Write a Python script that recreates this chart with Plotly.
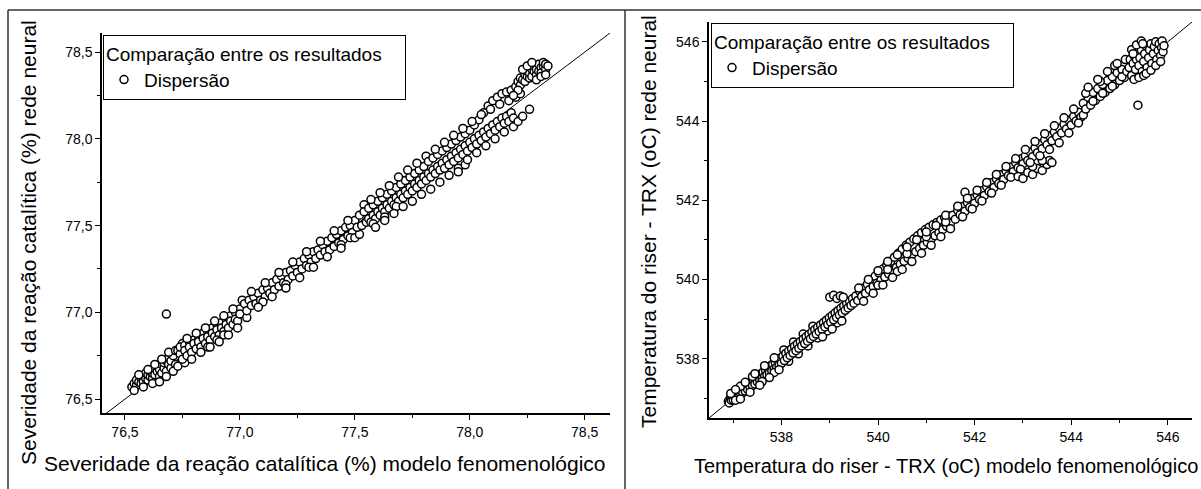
import plotly.graph_objects as go

# Severidade da reação catalítica (%): (modelo fenomenológico, rede neural)
sev_pontos = [
    (76.53, 76.57), (76.54, 76.59), (76.55, 76.58), (76.55, 76.61), (76.56, 76.60),
    (76.57, 76.62), (76.57, 76.59), (76.58, 76.63), (76.58, 76.60), (76.59, 76.62),
    (76.59, 76.65), (76.60, 76.61), (76.60, 76.64), (76.61, 76.63), (76.61, 76.66),
    (76.62, 76.62), (76.62, 76.65), (76.63, 76.67), (76.63, 76.64), (76.64, 76.66),
    (76.64, 76.69), (76.65, 76.63), (76.65, 76.67), (76.66, 76.70), (76.66, 76.65),
    (76.67, 76.68), (76.67, 76.71), (76.68, 76.66), (76.68, 76.72), (76.69, 76.70),
    (76.69, 76.74), (76.70, 76.68), (76.70, 76.72), (76.71, 76.75), (76.72, 76.70),
    (76.68, 76.99),
    (76.54, 76.55), (76.56, 76.64), (76.58, 76.57), (76.60, 76.67), (76.62, 76.59),
    (76.63, 76.70), (76.65, 76.60), (76.66, 76.73), (76.68, 76.63), (76.69, 76.77),
    (76.71, 76.66), (76.72, 76.78), (76.73, 76.69), (76.75, 76.82), (76.76, 76.71),
    (76.73, 76.78), (76.74, 76.76), (76.74, 76.80), (76.75, 76.73), (76.76, 76.81),
    (76.76, 76.78), (76.77, 76.75), (76.78, 76.83), (76.78, 76.80), (76.79, 76.77),
    (76.80, 76.84), (76.80, 76.82), (76.81, 76.79), (76.82, 76.86), (76.82, 76.83),
    (76.83, 76.80), (76.84, 76.88), (76.84, 76.85), (76.85, 76.82), (76.86, 76.89),
    (76.86, 76.86), (76.87, 76.84), (76.88, 76.91), (76.88, 76.88), (76.89, 76.86),
    (76.90, 76.93), (76.90, 76.90), (76.91, 76.87), (76.92, 76.94), (76.92, 76.91),
    (76.93, 76.89), (76.94, 76.96), (76.94, 76.93), (76.95, 76.91), (76.96, 76.98),
    (76.96, 76.95), (76.97, 76.93), (76.98, 77.00), (76.98, 76.96), (76.99, 76.95),
    (77.00, 77.02), (77.00, 76.99), (76.86, 76.80), (76.90, 76.84), (76.93, 76.87),
    (76.77, 76.85), (76.79, 76.73), (76.81, 76.88), (76.83, 76.77), (76.85, 76.91),
    (76.87, 76.80), (76.89, 76.95), (76.91, 76.83), (76.93, 76.98), (76.95, 76.87),
    (76.97, 77.02), (76.99, 76.91), (77.01, 77.07), (77.03, 76.97),
    (77.02, 77.05), (77.03, 77.01), (77.04, 77.07), (77.05, 77.04), (77.06, 77.09),
    (77.07, 77.05), (77.08, 77.11), (77.09, 77.07), (77.10, 77.13), (77.11, 77.09),
    (77.12, 77.14), (77.13, 77.11), (77.14, 77.17), (77.15, 77.13), (77.16, 77.19),
    (77.17, 77.15), (77.18, 77.21), (77.19, 77.17), (77.20, 77.23), (77.21, 77.19),
    (77.22, 77.24), (77.23, 77.21), (77.24, 77.27), (77.25, 77.23), (77.26, 77.29),
    (77.27, 77.25), (77.28, 77.31), (77.29, 77.27), (77.30, 77.33), (77.31, 77.29),
    (77.32, 77.35), (77.33, 77.31), (77.34, 77.36), (77.35, 77.33), (77.36, 77.39),
    (77.37, 77.35), (77.38, 77.41), (77.39, 77.36), (77.40, 77.43), (77.41, 77.38),
    (77.42, 77.45), (77.43, 77.40), (77.44, 77.47), (77.45, 77.42), (77.46, 77.49),
    (77.47, 77.44), (77.48, 77.50), (77.49, 77.46), (77.50, 77.53), (77.10, 77.06),
    (77.20, 77.16), (77.30, 77.26), (77.44, 77.39), (77.48, 77.43),
    (77.05, 77.12), (77.08, 77.03), (77.11, 77.17), (77.14, 77.09), (77.17, 77.23),
    (77.20, 77.14), (77.23, 77.29), (77.26, 77.20), (77.29, 77.35), (77.32, 77.26),
    (77.35, 77.41), (77.38, 77.32), (77.41, 77.47), (77.44, 77.37), (77.47, 77.53),
    (77.50, 77.43), (77.52, 77.45), (77.54, 77.62),
    (77.51, 77.49), (77.52, 77.56), (77.53, 77.50), (77.54, 77.58), (77.55, 77.52),
    (77.56, 77.60), (77.56, 77.54), (77.57, 77.52), (77.58, 77.62), (77.58, 77.56),
    (77.59, 77.54), (77.60, 77.64), (77.60, 77.58), (77.61, 77.56), (77.62, 77.66),
    (77.62, 77.60), (77.63, 77.58), (77.64, 77.68), (77.64, 77.62), (77.65, 77.60),
    (77.66, 77.70), (77.66, 77.64), (77.67, 77.62), (77.68, 77.72), (77.68, 77.66),
    (77.69, 77.64), (77.70, 77.74), (77.70, 77.68), (77.71, 77.66), (77.72, 77.76),
    (77.72, 77.70), (77.73, 77.68), (77.74, 77.78), (77.74, 77.72), (77.75, 77.70),
    (77.76, 77.80), (77.76, 77.74), (77.77, 77.72), (77.78, 77.82), (77.78, 77.76),
    (77.79, 77.74), (77.80, 77.84), (77.80, 77.78), (77.58, 77.51), (77.63, 77.55),
    (77.68, 77.61),
    (77.57, 77.65), (77.59, 77.49), (77.61, 77.69), (77.63, 77.53), (77.65, 77.73),
    (77.67, 77.57), (77.69, 77.78), (77.71, 77.61), (77.73, 77.82), (77.75, 77.64),
    (77.77, 77.86), (77.79, 77.68), (77.81, 77.90), (77.83, 77.71),
    (77.81, 77.76), (77.82, 77.87), (77.82, 77.80), (77.83, 77.78), (77.84, 77.89),
    (77.84, 77.82), (77.85, 77.80), (77.86, 77.91), (77.86, 77.84), (77.87, 77.82),
    (77.88, 77.93), (77.88, 77.86), (77.89, 77.83), (77.90, 77.95), (77.90, 77.88),
    (77.91, 77.85), (77.92, 77.97), (77.92, 77.90), (77.93, 77.87), (77.94, 77.99),
    (77.94, 77.92), (77.95, 77.89), (77.95, 77.83), (77.96, 78.01), (77.96, 77.94),
    (77.97, 77.91), (77.98, 77.85), (77.98, 78.03), (77.98, 77.96), (77.99, 77.93),
    (78.00, 78.05), (78.00, 77.98), (78.01, 77.95), (78.02, 78.08), (78.02, 78.00),
    (78.03, 77.97), (78.04, 78.11), (78.04, 78.02), (78.05, 77.99), (78.06, 78.15),
    (78.06, 78.04), (78.07, 78.01), (78.08, 78.19), (78.08, 78.06), (78.09, 78.03),
    (78.10, 78.22), (78.10, 78.08), (78.11, 78.05), (78.12, 78.24), (78.12, 78.10),
    (78.13, 78.07), (78.14, 78.26), (78.14, 78.12), (78.15, 78.09), (78.16, 78.27),
    (78.16, 78.13), (78.17, 78.10), (78.18, 78.28), (78.18, 78.15), (78.19, 78.12),
    (77.85, 77.94), (77.87, 77.75), (77.89, 77.98), (77.91, 77.79), (77.93, 78.02),
    (77.95, 77.81), (77.97, 78.06), (77.99, 77.88), (78.01, 78.10), (78.03, 77.92),
    (78.05, 78.14), (78.07, 77.96), (78.09, 78.17), (78.11, 78.00), (78.13, 78.20),
    (78.15, 78.04), (78.17, 78.22), (78.19, 78.07), (78.21, 78.10), (78.23, 78.13),
    (78.20, 78.30), (78.21, 78.33), (78.22, 78.31), (78.22, 78.35), (78.23, 78.34),
    (78.24, 78.37), (78.24, 78.33), (78.25, 78.36), (78.25, 78.39), (78.26, 78.35),
    (78.26, 78.38), (78.27, 78.40), (78.27, 78.36), (78.28, 78.39), (78.28, 78.42),
    (78.29, 78.37), (78.29, 78.40), (78.30, 78.43), (78.30, 78.39), (78.31, 78.41),
    (78.31, 78.38), (78.32, 78.42), (78.32, 78.44), (78.33, 78.40), (78.33, 78.43),
    (78.34, 78.42), (78.20, 78.24), (78.22, 78.26), (78.26, 78.17),
    (78.23, 78.40), (78.25, 78.42), (78.27, 78.44), (78.29, 78.34), (78.31, 78.36),
    (78.33, 78.37), (78.21, 78.28), (78.19, 78.25),
]

# Temperatura do riser - TRX (oC): (modelo fenomenológico, rede neural)
trx_pontos = [
    (536.90, 536.92), (536.92, 536.88), (536.94, 537.00), (536.96, 536.95), (536.98, 537.05),
    (537.00, 536.96), (537.02, 537.08), (537.04, 537.01), (537.06, 537.12), (537.08, 537.03),
    (537.10, 537.16), (537.12, 537.07), (537.14, 537.20), (537.16, 537.10), (537.18, 537.24),
    (537.20, 537.14), (537.22, 537.27), (537.25, 537.18), (537.27, 537.31), (537.30, 537.22),
    (537.32, 537.36), (537.35, 537.27), (537.37, 537.41), (537.40, 537.32), (537.42, 537.46),
    (537.45, 537.36), (537.47, 537.51), (537.50, 537.41), (537.52, 537.56), (537.55, 537.45),
    (537.57, 537.61), (537.60, 537.50), (537.62, 537.66), (537.65, 537.55), (537.67, 537.71),
    (537.70, 537.59), (537.72, 537.76), (537.75, 537.64), (537.77, 537.81), (537.80, 537.69),
    (537.82, 537.86), (537.85, 537.74), (537.87, 537.91), (537.90, 537.78), (537.92, 537.96),
    (537.95, 537.83), (537.97, 538.01), (538.00, 537.88), (537.05, 536.95), (537.15, 537.30),
    (537.40, 537.55), (537.60, 537.42), (537.85, 537.65),
    (536.95, 537.12), (537.05, 537.22), (537.15, 536.98), (537.25, 537.40), (537.35, 537.15),
    (537.45, 537.62), (537.55, 537.33), (537.65, 537.82), (537.75, 537.52), (537.85, 538.02),
    (537.95, 537.72), (538.05, 538.22), (538.15, 537.93), (538.25, 538.42), (538.35, 538.12),
    (538.45, 538.62), (538.55, 538.32), (538.65, 538.82), (538.75, 538.52), (538.95, 538.70),
    (539.15, 538.90),
    (538.03, 538.06), (538.06, 537.95), (538.09, 538.13), (538.12, 538.02), (538.15, 538.19),
    (538.18, 538.08), (538.21, 538.25), (538.24, 538.14), (538.27, 538.31), (538.30, 538.20),
    (538.33, 538.37), (538.36, 538.26), (538.39, 538.43), (538.42, 538.32), (538.45, 538.49),
    (538.48, 538.38), (538.51, 538.55), (538.54, 538.44), (538.57, 538.61), (538.60, 538.50),
    (538.63, 538.67), (538.66, 538.56), (538.69, 538.73), (538.72, 538.62), (538.75, 538.79),
    (538.78, 538.68), (538.81, 538.85), (538.84, 538.74), (538.87, 538.91), (538.90, 538.80),
    (538.93, 538.97), (538.96, 538.86), (538.99, 539.03), (539.02, 538.92), (539.05, 539.09),
    (539.08, 538.98), (539.11, 539.15), (539.14, 539.04), (539.17, 539.21), (539.20, 539.10),
    (539.23, 539.27), (539.26, 539.16), (539.29, 539.33), (539.32, 539.22), (539.35, 539.39),
    (539.38, 539.28), (539.41, 539.45), (539.44, 539.34), (539.47, 539.51), (539.50, 539.40),
    (539.00, 539.55), (539.08, 539.60), (539.15, 539.52), (539.22, 539.58), (539.28, 539.55),
    (538.85, 538.55), (539.05, 538.75), (539.25, 538.95),
    (539.54, 539.58), (539.58, 539.47), (539.62, 539.70), (539.66, 539.57), (539.70, 539.78),
    (539.74, 539.65), (539.78, 539.88), (539.82, 539.74), (539.86, 539.98), (539.90, 539.82),
    (539.94, 540.08), (539.98, 539.90), (540.02, 540.16), (540.06, 539.98), (540.10, 540.26),
    (540.14, 540.06), (540.18, 540.36), (540.22, 540.14), (540.26, 540.46), (540.30, 540.22),
    (540.34, 540.56), (540.38, 540.30), (540.42, 540.66), (540.46, 540.38), (540.50, 540.76),
    (540.54, 540.46), (540.58, 540.86), (540.62, 540.54), (540.66, 540.94), (540.70, 540.62),
    (540.74, 541.02), (540.78, 540.70), (540.82, 541.10), (540.86, 540.78), (540.90, 541.18),
    (540.94, 540.86), (540.98, 541.26), (541.02, 540.94), (541.06, 541.32), (541.10, 541.02),
    (541.14, 541.38), (541.18, 541.10), (541.22, 541.44), (541.26, 541.18), (541.30, 541.50),
    (541.34, 541.26), (541.38, 541.56), (541.42, 541.34), (541.46, 541.60), (541.50, 541.42),
    (540.20, 540.25), (540.60, 540.65), (541.00, 541.08), (541.40, 541.45), (540.00, 539.85),
    (540.40, 540.20),
    (539.60, 539.78), (539.70, 539.45), (539.80, 540.00), (539.90, 539.65), (540.00, 540.22),
    (540.10, 539.86), (540.20, 540.45), (540.30, 540.05), (540.40, 540.62), (540.50, 540.25),
    (540.60, 540.82), (540.70, 540.45), (540.80, 541.00), (540.90, 540.66), (541.00, 541.20),
    (541.10, 540.86), (541.20, 541.36), (541.30, 541.08), (541.40, 541.62), (541.50, 541.28),
    (541.55, 541.62), (541.60, 541.52), (541.65, 541.74), (541.70, 541.63), (541.75, 541.84),
    (541.80, 541.72), (541.85, 541.94), (541.90, 541.82), (541.95, 542.04), (542.00, 541.92),
    (542.05, 542.14), (542.10, 542.02), (542.15, 542.24), (542.20, 542.12), (542.25, 542.34),
    (542.30, 542.22), (542.35, 542.44), (542.40, 542.32), (542.45, 542.54), (542.50, 542.42),
    (542.55, 542.64), (542.60, 542.52), (542.65, 542.74), (542.70, 542.62), (542.75, 542.84),
    (542.80, 542.72), (542.85, 542.94), (542.90, 542.82), (542.95, 543.04), (543.00, 542.92),
    (541.80, 542.20),
    (541.65, 541.85), (541.75, 541.58), (541.85, 542.05), (541.95, 541.78), (542.05, 542.25),
    (542.15, 541.98), (542.25, 542.45), (542.35, 542.18), (542.45, 542.65), (542.55, 542.38),
    (542.65, 542.85), (542.75, 542.58), (542.85, 543.05), (542.95, 542.78),
    (543.05, 543.12), (543.10, 543.00), (543.15, 543.22), (543.20, 543.10), (543.25, 543.32),
    (543.30, 543.20), (543.35, 543.42), (543.40, 543.30), (543.45, 543.52), (543.50, 543.40),
    (543.55, 543.62), (543.60, 543.50), (543.65, 543.72), (543.70, 543.60), (543.75, 543.82),
    (543.80, 543.70), (543.85, 543.92), (543.90, 543.80), (543.95, 544.02), (544.00, 543.90),
    (544.05, 544.12), (544.10, 544.00), (544.15, 544.22), (544.20, 544.10),
    (542.90, 542.60), (543.00, 542.55), (543.10, 542.70), (543.20, 542.65), (543.30, 542.80),
    (543.40, 542.75), (543.50, 542.90), (543.55, 543.00), (543.60, 542.95), (543.20, 542.85),
    (543.40, 543.00),
    (543.05, 543.28), (543.15, 542.95), (543.25, 543.48), (543.35, 543.12), (543.45, 543.68),
    (543.55, 543.28), (543.65, 543.88), (543.75, 543.45), (543.85, 544.08), (543.95, 543.70),
    (544.05, 544.30), (544.15, 543.95), (544.25, 544.15),
    (544.25, 544.45), (544.30, 544.30), (544.35, 544.60), (544.40, 544.40), (544.45, 544.72),
    (544.50, 544.52), (544.55, 544.82), (544.60, 544.62), (544.65, 544.92), (544.70, 544.72),
    (544.75, 545.02), (544.80, 544.82), (544.85, 545.12), (544.90, 544.92), (544.95, 545.22),
    (545.00, 545.02), (545.05, 545.30), (545.10, 545.10), (544.30, 544.70), (544.60, 545.00),
    (544.90, 545.40),
    (544.35, 544.85), (544.45, 544.50), (544.55, 545.05), (544.65, 544.70), (544.75, 545.25),
    (544.85, 544.88), (544.95, 545.45), (545.05, 545.12), (545.12, 545.55), (545.15, 545.25),
    (545.20, 545.35), (545.22, 545.55), (545.25, 545.15), (545.28, 545.45), (545.30, 545.65),
    (545.33, 545.30), (545.35, 545.55), (545.38, 545.75), (545.40, 545.40), (545.42, 545.60),
    (545.45, 545.80), (545.47, 545.25), (545.50, 545.50), (545.52, 545.70), (545.55, 545.90),
    (545.57, 545.35), (545.60, 545.60), (545.62, 545.80), (545.65, 545.95), (545.67, 545.45),
    (545.70, 545.70), (545.72, 545.88), (545.75, 546.00), (545.77, 545.55), (545.80, 545.78),
    (545.82, 545.95), (545.85, 545.65), (545.87, 545.85), (545.88, 546.02), (545.90, 545.75),
    (545.30, 545.05), (545.40, 545.10), (545.50, 545.15), (545.38, 544.40),
    (545.25, 545.80), (545.35, 545.92), (545.45, 546.02), (545.55, 545.20), (545.65, 545.28),
    (545.75, 545.40), (545.85, 545.50), (545.92, 545.90), (545.28, 545.70), (545.48, 545.95),
]

sev_modelo, sev_rede = map(list, zip(*sev_pontos))
trx_modelo, trx_rede = map(list, zip(*trx_pontos))

# reference line y = x spanning each plot
sev_linha = [76.40, 78.61]
trx_linha = [536.5, 546.5]

sev_faixa_x = [76.40, 78.61]
sev_faixa_y = [76.42, 78.61]
trx_faixa = [536.5, 546.5]

titulo_legenda = "Comparação entre os resultados"
nome_serie = "Dispersão"

W, H = 1201, 489
FONT = "Liberation Sans, Arial, sans-serif"
NBSP = "\u00a0"


def px(x):
    return x / W


def py(y):
    return 1 - y / H


marcador = dict(symbol="circle", size=8, color="white", line=dict(color="black", width=1.5))

fig = go.Figure()
fig.add_trace(go.Scatter(x=sev_linha, y=sev_linha, mode="lines", line=dict(color="black", width=1),
                         showlegend=False, xaxis="x", yaxis="y", hoverinfo="skip"))
fig.add_trace(go.Scatter(x=sev_modelo, y=sev_rede, mode="markers", marker=marcador,
                         name=nome_serie, legend="legend", xaxis="x", yaxis="y"))
fig.add_trace(go.Scatter(x=trx_linha, y=trx_linha, mode="lines", line=dict(color="black", width=1),
                         showlegend=False, xaxis="x2", yaxis="y2", hoverinfo="skip"))
fig.add_trace(go.Scatter(x=trx_modelo, y=trx_rede, mode="markers", marker=marcador,
                         name=nome_serie, legend="legend2", xaxis="x2", yaxis="y2"))

eixo = dict(showline=True, linecolor="black", linewidth=1.5, mirror=False, showgrid=False,
            zeroline=False, ticks="outside", ticklen=5, tickwidth=1, tickcolor="black",
            tickfont=dict(family=FONT, size=14, color="black"))

legenda = dict(xanchor="left", yanchor="top", bgcolor="white", bordercolor="black", borderwidth=1,
               title=dict(text=titulo_legenda + NBSP * 4, font=dict(family=FONT, size=19)),
               font=dict(family=FONT, size=19))

fig.update_layout(
    width=W, height=H,
    margin=dict(l=0, r=0, t=0, b=0),
    paper_bgcolor="white", plot_bgcolor="white",
    separators=",.",
    font=dict(family=FONT, color="black"),
    xaxis=dict(eixo, domain=[px(102), px(610)], range=sev_faixa_x, anchor="y",
               dtick=0.5, tick0=76.5, tickformat=".1f",
               minor=dict(ticks="outside", ticklen=3, dtick=0.25, tickcolor="black")),
    yaxis=dict(eixo, domain=[py(413), py(33)], range=sev_faixa_y, anchor="x",
               dtick=0.5, tick0=76.5, tickformat=".1f",
               minor=dict(ticks="outside", ticklen=3, dtick=0.25, tickcolor="black")),
    xaxis2=dict(eixo, domain=[px(709), px(1192)], range=trx_faixa, anchor="y2",
                dtick=2, tick0=538,
                minor=dict(ticks="outside", ticklen=3, dtick=1, tickcolor="black")),
    yaxis2=dict(eixo, domain=[py(418), py(22)], range=trx_faixa, anchor="x2",
                dtick=2, tick0=538,
                minor=dict(ticks="outside", ticklen=3, dtick=1, tickcolor="black")),
    legend=dict(legenda, x=px(103), y=py(35)),
    legend2=dict(legenda, x=px(711), y=py(23)),
)

# axis titles
titulos = [
    dict(text="Severidade da reação catalítica (%) modelo fenomenológico", x=px(325), y=py(463),
         xanchor="center", yanchor="middle", textangle=0, size=21),
    dict(text="Severidade da reação catalítica (%) rede neural", x=px(28), y=py(243),
         xanchor="center", yanchor="middle", textangle=-90, size=21),
    dict(text="Temperatura do riser - TRX (oC) modelo fenomenológico", x=px(692), y=py(466),
         xanchor="left", yanchor="middle", textangle=0, size=20),
    dict(text="Temperatura do riser - TRX (oC) rede neural", x=px(648), y=py(222),
         xanchor="center", yanchor="middle", textangle=-90, size=21),
]
for t in titulos:
    tamanho = t.pop("size")
    fig.add_annotation(xref="paper", yref="paper", showarrow=False,
                       font=dict(family=FONT, size=tamanho, color="black"), **t)

# table frame around the two panels
quadro = dict(type="line", xref="paper", yref="paper", line=dict(color="#333333", width=1.5))
fig.add_shape(quadro, x0=px(8), x1=1, y0=py(10), y1=py(10))
fig.add_shape(quadro, x0=px(8), x1=px(8), y0=py(10), y1=0)
fig.add_shape(quadro, x0=px(625), x1=px(625), y0=py(10), y1=0)

fig.write_html("out.html")
